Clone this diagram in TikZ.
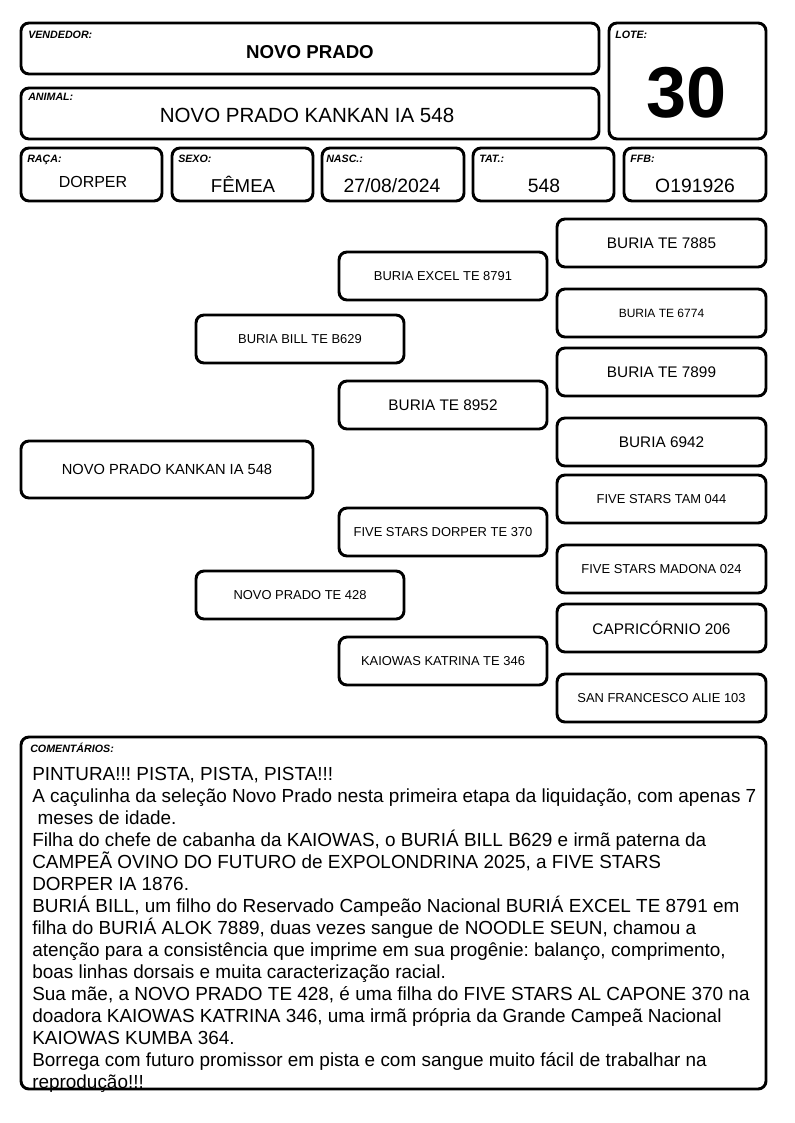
\documentclass[tikz,border=0pt]{standalone}
\usepackage{fontspec}
\setmainfont{Liberation Sans}
\frenchspacing
\tikzset{
  frame/.style 2 args={draw = black, line width = 2.2pt, rounded corners = 6pt, inner sep = 0pt, minimum width = #1*0.75pt, minimum height = #2*0.75pt},
  tag/.style={anchor = base west, inner sep = 0pt, font = \fontsize{8}{9.6}\selectfont\bfseries\itshape},
  value/.style={anchor = base, inner sep = 0pt},
  big/.style={font = \fontsize{11.5}{13.8}\selectfont},
  small/.style={font = \fontsize{9.7}{11.6}\selectfont},
}

\begin{document}
\begin{tikzpicture}[x = 0.75pt, y = -0.75pt]
\useasboundingbox (0, 0) rectangle (794, 1123);

% header fields
\node[frame = {578}{51}] (vendbox) at (310, 48.5) {};
\node[tag] (vendtag) at (28, 39) {VENDEDOR:};
\node[value, font = \fontsize{14}{16.8}\selectfont\bfseries] (vend) at (310, 59) {NOVO PRADO};

\node[frame = {578}{51}] (animbox) at (310, 113.5) {};
\node[tag] (animtag) at (28, 101) {ANIMAL:};
\node[value, font = \fontsize{15.4}{18}\selectfont] (anim) at (307, 123) {NOVO PRADO KANKAN IA 548};

\node[frame = {157}{116}] (lotebox) at (687.5, 81) {};
\node[tag] (lotetag) at (615, 39) {LOTE:};
\node[value, font = \fontsize{54}{62}\selectfont\bfseries] (lote) at (687, 118) {30};

\node[frame = {141}{53}] (racabox) at (91.5, 174.5) {};
\node[tag] (racatag) at (27, 163) {RAÇA:};
\node[value, font = \fontsize{12}{14.4}\selectfont] (raca) at (93, 188) {DORPER};

\node[frame = {141}{53}] (sexobox) at (242.5, 174.5) {};
\node[tag] (sexotag) at (178, 163) {SEXO:};
\node[value, font = \fontsize{14}{16.8}\selectfont] (sexo) at (243, 193) {FÊMEA};

\node[frame = {142}{53}] (nascbox) at (393, 174.5) {};
\node[tag] (nasctag) at (326, 163) {NASC.:};
\node[value, font = \fontsize{14.5}{17.4}\selectfont] (nasc) at (392, 193) {27/08/2024};

\node[frame = {141}{53}] (tatbox) at (543.5, 174.5) {};
\node[tag] (tattag) at (479, 163) {TAT.:};
\node[value, font = \fontsize{14.5}{17.4}\selectfont] (tat) at (544, 193) {548};

\node[frame = {142}{53}] (ffbbox) at (695, 174.5) {};
\node[tag] (ffbtag) at (630, 163) {FFB:};
\node[value, font = \fontsize{14.5}{17.4}\selectfont] (ffb) at (695, 193) {O191926};

% pedigree
\node[frame = {292}{57}, font = \fontsize{11}{13.2}\selectfont] (animal) at (167, 469.5) {NOVO PRADO KANKAN IA 548};

\node[frame = {208}{48}, small] (sire) at (300, 339) {BURIA BILL TE B629};
\node[frame = {208}{48}, small] (dam) at (300, 595) {NOVO PRADO TE 428};

\node[frame = {208}{48}, small] (ss) at (443, 276) {BURIA EXCEL TE 8791};
\node[frame = {208}{48}, big] (sd) at (443, 405) {BURIA TE 8952};
\node[frame = {208}{48}, small] (ds) at (443, 532) {FIVE STARS DORPER TE 370};
\node[frame = {208}{48}, small] (dd) at (443, 661) {KAIOWAS KATRINA TE 346};

\node[frame = {209}{48}, big] (sss) at (661.5, 243) {BURIA TE 7885};
\node[frame = {209}{48}, font = \fontsize{9}{10.8}\selectfont] (ssd) at (661.5, 313) {BURIA TE 6774};
\node[frame = {209}{48}, big] (sds) at (661.5, 372) {BURIA TE 7899};
\node[frame = {209}{48}, big] (sdd) at (661.5, 442) {BURIA 6942};
\node[frame = {209}{48}, small] (dss) at (661.5, 499) {FIVE STARS TAM 044};
\node[frame = {209}{48}, small] (dsd) at (661.5, 569) {FIVE STARS MADONA 024};
\node[frame = {209}{48}, big] (dds) at (661.5, 628) {CAPRICÓRNIO 206};
\node[frame = {209}{48}, small] (ddd) at (661.5, 698) {SAN FRANCESCO ALIE 103};

% comments
\node[frame = {745}{352}] (combox) at (393.5, 913) {};
\node[tag] (comtag) at (30, 752) {COMENTÁRIOS:};
\foreach \l [count = \i] in {
  {PINTURA!!! PISTA, PISTA, PISTA!!!},
  {A caçulinha da seleção Novo Prado nesta primeira etapa da liquidação, com apenas 7},
  {\ meses de idade.},
  {Filha do chefe de cabanha da KAIOWAS, o BURIÁ BILL B629 e irmã paterna da},
  {CAMPEÃ OVINO DO FUTURO de EXPOLONDRINA 2025, a FIVE STARS},
  {DORPER IA 1876.},
  {BURIÁ BILL, um filho do Reservado Campeão Nacional BURIÁ EXCEL TE 8791 em},
  {filha do BURIÁ ALOK 7889, duas vezes sangue de NOODLE SEUN, chamou a},
  {atenção para a consistência que imprime em sua progênie: balanço, comprimento,},
  {boas linhas dorsais e muita caracterização racial.},
  {Sua mãe, a NOVO PRADO TE 428, é uma filha do FIVE STARS AL CAPONE 370 na},
  {doadora KAIOWAS KATRINA 346, uma irmã própria da Grande Campeã Nacional},
  {KAIOWAS KUMBA 364.},
  {Borrega com futuro promissor em pista e com sangue muito fácil de trabalhar na},
  {reprodução!!!}}
  {\node[anchor = base west, inner sep = 0pt, font = \fontsize{14.2}{17}\selectfont] (com\i) at (32, 758 + 22*\i) {\l};}

\end{tikzpicture}
\end{document}
